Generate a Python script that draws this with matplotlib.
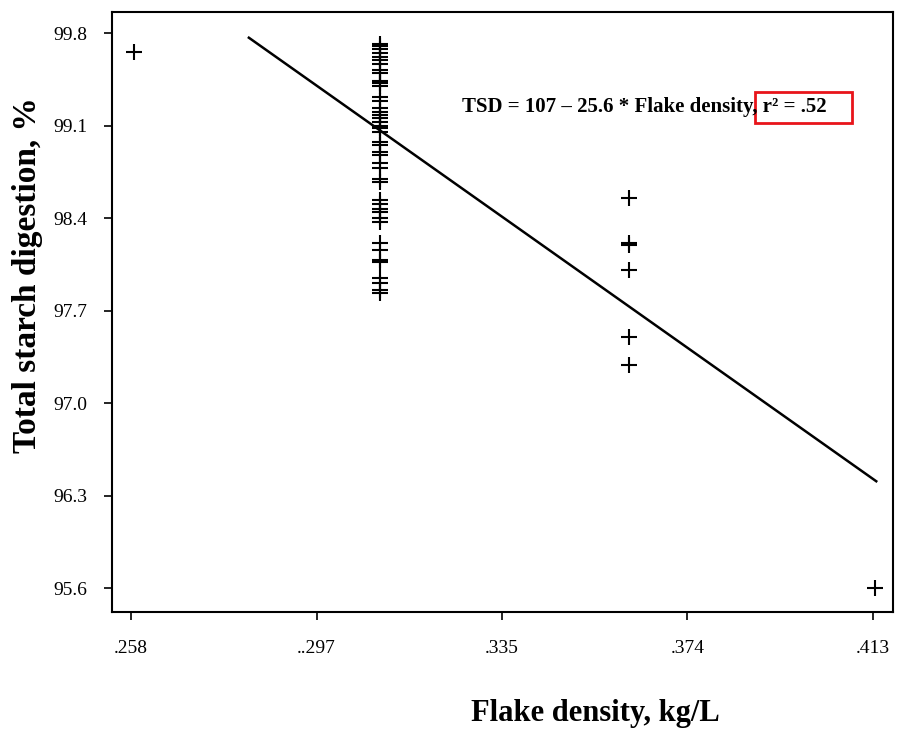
import matplotlib
matplotlib.use("Agg")
import matplotlib.pyplot as plt
from matplotlib.patches import Rectangle

# flake density (kg/L) and total starch digestion (%)
x_low = [0.2586]
y_low = [99.66]

x_cluster = [0.310] * 44
y_cluster = [99.72, 99.70, 99.68, 99.65, 99.62, 99.60, 99.57, 99.52, 99.50, 99.44,
             99.42, 99.40, 99.32, 99.29, 99.23, 99.20, 99.18, 99.16, 99.13, 99.10,
             99.08, 99.05, 98.98, 98.95, 98.90, 98.88, 98.82, 98.78, 98.70, 98.67,
             98.54, 98.51, 98.47, 98.45, 98.40, 98.37, 98.21, 98.16, 98.08, 98.07,
             97.95, 97.91, 97.86, 97.83]

x_mid = [0.362] * 6
y_mid = [98.55, 98.21, 98.20, 98.01, 97.50, 97.29]

x_high = [0.4135]
y_high = [95.60]

# fitted line TSD = 107 - 25.6 * density
fit_x = [0.2826, 0.4137]
fit_y = [107 - 25.6 * v for v in fit_x]

xticks = [0.258, 0.29675, 0.3355, 0.37425, 0.413]
xtick_labels = [".258", "..297", ".335", ".374", ".413"]
yticks = [95.6, 96.3, 97.0, 97.7, 98.4, 99.1, 99.8]
ytick_labels = ["95.6", "96.3", "97.0", "97.7", "98.4", "99.1", "99.8"]

serif = "Liberation Serif"

fig = plt.figure(figsize=(9.01, 7.32), dpi=100)
ax = fig.add_axes([112 / 901, 1 - 612 / 732, 781 / 901, 600 / 732])

all_x = x_low + x_cluster + x_mid + x_high
all_y = y_low + y_cluster + y_mid + y_high
ax.plot(all_x, all_y, linestyle="none", marker="+", markersize=12,
        markeredgewidth=1.5, color="black")
ax.plot(fit_x, fit_y, color="black", linewidth=1.8)

ax.set_xlim(0.2540, 0.4172)
ax.set_ylim(95.42, 99.96)
ax.set_xticks(xticks)
ax.set_xticklabels(xtick_labels, fontfamily=serif, fontsize=14)
ax.set_yticks(yticks)
ax.set_yticklabels(ytick_labels, fontfamily=serif, fontsize=14)
ax.tick_params(axis="both", direction="out", length=6, width=1.2, color="black")
ax.tick_params(axis="y", pad=12)
ax.tick_params(axis="x", pad=14)
for s in ax.spines.values():
    s.set_linewidth(1.5)

fig.text(28 / 901, 1 - 275 / 732, "Total starch digestion, %", rotation=90,
         ha="center", va="center", fontfamily=serif, fontweight="bold", fontsize=24)
fig.text(595 / 901, 1 - 713 / 732, "Flake density, kg/L", ha="center", va="center",
         fontfamily=serif, fontweight="bold", fontsize=22)
fig.text(462 / 901, 1 - 107 / 732, "TSD = 107 \u2013 25.6 * Flake density, r\u00b2 = .52",
         ha="left", va="center", fontfamily=serif, fontweight="bold", fontsize=15)

fig.patches.append(Rectangle((755 / 901, 1 - 123 / 732), 97 / 901, 31 / 732,
                             transform=fig.transFigure, fill=False,
                             edgecolor="#e8141a", linewidth=2))

fig.savefig("out.png", dpi=100)
